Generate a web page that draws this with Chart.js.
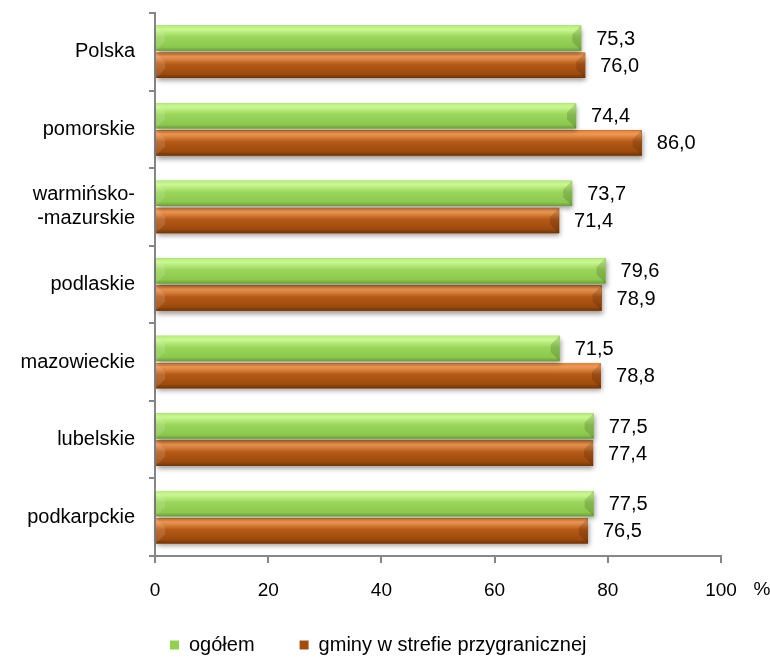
<!DOCTYPE html>
<html>
<head>
<meta charset="utf-8">
<script src="https://cdn.jsdelivr.net/npm/chart.js@4.4.1/dist/chart.umd.min.js"></script>
<style>
  html, body { margin: 0; padding: 0; background: #fff; }
  #wrap { width: 770px; height: 658px; }
</style>
</head>
<body>
<div id="wrap"><canvas id="wykres" width="770" height="658"></canvas></div>
<script>
// Dane wykresu
const wojewodztwa = ['Polska', 'pomorskie', ['warmińsko-', '-mazurskie'], 'podlaskie', 'mazowieckie', 'lubelskie', 'podkarpckie'];
const ogolem = [75.3, 74.4, 73.7, 79.6, 71.5, 77.5, 77.5];
const gminyPrzygraniczne = [76.0, 86.0, 71.4, 78.9, 78.8, 77.4, 76.5];
const osX = [0, 20, 40, 60, 80, 100];

const FONT = '"Liberation Sans", Arial, sans-serif';
const kolory = ['#92d050', '#a24c0e'];
// pasy swiatla na slupkach (gora, srodek, dol)
const gradienty = [
  ['#b6ec7c', '#c9f890', '#9bd65c', '#8cc84e', '#6a9c38'],
  ['#e0803a', '#f09a55', '#b65a18', '#9c4a0c', '#6e3408']
];

function liczba(v) {
  return v.toFixed(1).replace('.', ',');
}

// cien pod slupkami
const cienPlugin = {
  id: 'cien',
  beforeDatasetDraw(chart, args) {
    const ctx = chart.ctx;
    ctx.save();
    ctx.shadowColor = 'rgba(0,0,0,0.4)';
    ctx.shadowBlur = 5;
    ctx.shadowOffsetY = 3;
    ctx.shadowOffsetX = 1;
    ctx.fillStyle = kolory[args.index];
    args.meta.data.forEach(el => {
      const p = el.getProps(['x', 'y', 'base', 'height'], true);
      ctx.fillRect(p.base, p.y - p.height / 2, p.x - p.base, p.height);
    });
    ctx.restore();
  }
};

// efekt wypuklosci slupkow
const fazaPlugin = {
  id: 'faza',
  afterDatasetDraw(chart, args) {
    const ctx = chart.ctx;
    const st = gradienty[args.index];
    ctx.save();
    args.meta.data.forEach(el => {
      const p = el.getProps(['x', 'y', 'base', 'height'], true);
      const gora = p.y - p.height / 2;
      const dol = p.y + p.height / 2;
      const g = ctx.createLinearGradient(0, gora, 0, dol);
      g.addColorStop(0, st[0]);
      g.addColorStop(0.15, st[1]);
      g.addColorStop(0.45, st[2]);
      g.addColorStop(0.85, st[3]);
      g.addColorStop(1, st[4]);
      ctx.fillStyle = g;
      ctx.fillRect(p.base, gora, p.x - p.base, p.height);

      const b = Math.min(9, p.height / 2.5);
      // lewy koniec - jasny klin
      ctx.fillStyle = 'rgba(255,255,255,0.12)';
      ctx.beginPath();
      ctx.moveTo(p.base, gora);
      ctx.lineTo(p.base + b, gora + b);
      ctx.lineTo(p.base + b, dol - b);
      ctx.lineTo(p.base, dol);
      ctx.closePath();
      ctx.fill();
      // prawy koniec - ciemny klin
      ctx.fillStyle = 'rgba(0,0,0,0.14)';
      ctx.beginPath();
      ctx.moveTo(p.x, gora);
      ctx.lineTo(p.x - b, gora + b);
      ctx.lineTo(p.x - b, dol - b);
      ctx.lineTo(p.x, dol);
      ctx.closePath();
      ctx.fill();
    });
    ctx.restore();
  }
};

// etykiety wartosci, znak % i polozenie legendy
const etykietyPlugin = {
  id: 'etykiety',
  beforeLayout(chart) {
    const lg = chart.legend;
    if (lg && !lg._przyciety) {
      const fit = lg.fit.bind(lg);
      lg.fit = function () { fit(); this.height = 40; };
      lg._przyciety = true;
    }
  },
  afterLayout(chart) {
    chart.legend.left = 125;
    chart.legend.top = 590;
  },
  afterDatasetsDraw(chart) {
    const ctx = chart.ctx;
    ctx.save();
    ctx.font = '20px ' + FONT;
    ctx.fillStyle = '#000';
    ctx.textBaseline = 'middle';
    ctx.textAlign = 'left';
    chart.data.datasets.forEach((ds, i) => {
      chart.getDatasetMeta(i).data.forEach((el, j) => {
        ctx.fillText(liczba(ds.data[j]), el.x + 15, el.y + 1);
      });
    });
    const sx = chart.scales.x;
    ctx.font = '19px ' + FONT;
    ctx.textAlign = 'center';
    ctx.fillText('%', sx.right + 41, sx.top + 34);
    ctx.restore();
  }
};

const ctx = document.getElementById('wykres').getContext('2d');
window.wykres = new Chart(ctx, {
  type: 'bar',
  data: {
    labels: wojewodztwa,
    datasets: [
      {
        label: 'ogółem',
        data: ogolem,
        backgroundColor: kolory[0],
        borderWidth: 0,
        categoryPercentage: 0.7,
        barPercentage: 0.93
      },
      {
        label: 'gminy w strefie przygranicznej',
        data: gminyPrzygraniczne,
        backgroundColor: kolory[1],
        borderWidth: 0,
        categoryPercentage: 0.7,
        barPercentage: 0.93
      }
    ]
  },
  options: {
    indexAxis: 'y',
    responsive: false,
    animation: false,
    layout: { padding: { top: 13, right: 49, left: 0, bottom: 0 } },
    plugins: {
      tooltip: { enabled: false },
      legend: {
        position: 'bottom',
        align: 'start',
        labels: {
          boxWidth: 9,
          boxHeight: 9,
          padding: 45,
          color: '#000',
          font: { family: FONT, size: 20 }
        }
      }
    },
    scales: {
      x: {
        min: 0,
        max: 100,
        afterBuildTicks: s => { s.ticks = osX.map(v => ({ value: v })); },
        afterFit: s => { s.height = 62; },
        ticks: {
          color: '#000',
          padding: 16,
          maxRotation: 0,
          font: { family: FONT, size: 19 }
        },
        grid: { drawOnChartArea: false, tickLength: 7, color: '#868686', lineWidth: 2 },
        border: { color: '#868686', width: 2 }
      },
      y: {
        afterFit: s => { s.width = 155; s.paddingTop = 0; s.paddingBottom = 0; },
        ticks: {
          color: '#000',
          padding: 14,
          font: { family: FONT, size: 20 }
        },
        grid: { offset: true, drawOnChartArea: false, tickLength: 6, color: '#868686', lineWidth: 2 },
        border: { color: '#868686', width: 2 }
      }
    }
  },
  plugins: [cienPlugin, fazaPlugin, etykietyPlugin]
});
</script>
</body>
</html>
